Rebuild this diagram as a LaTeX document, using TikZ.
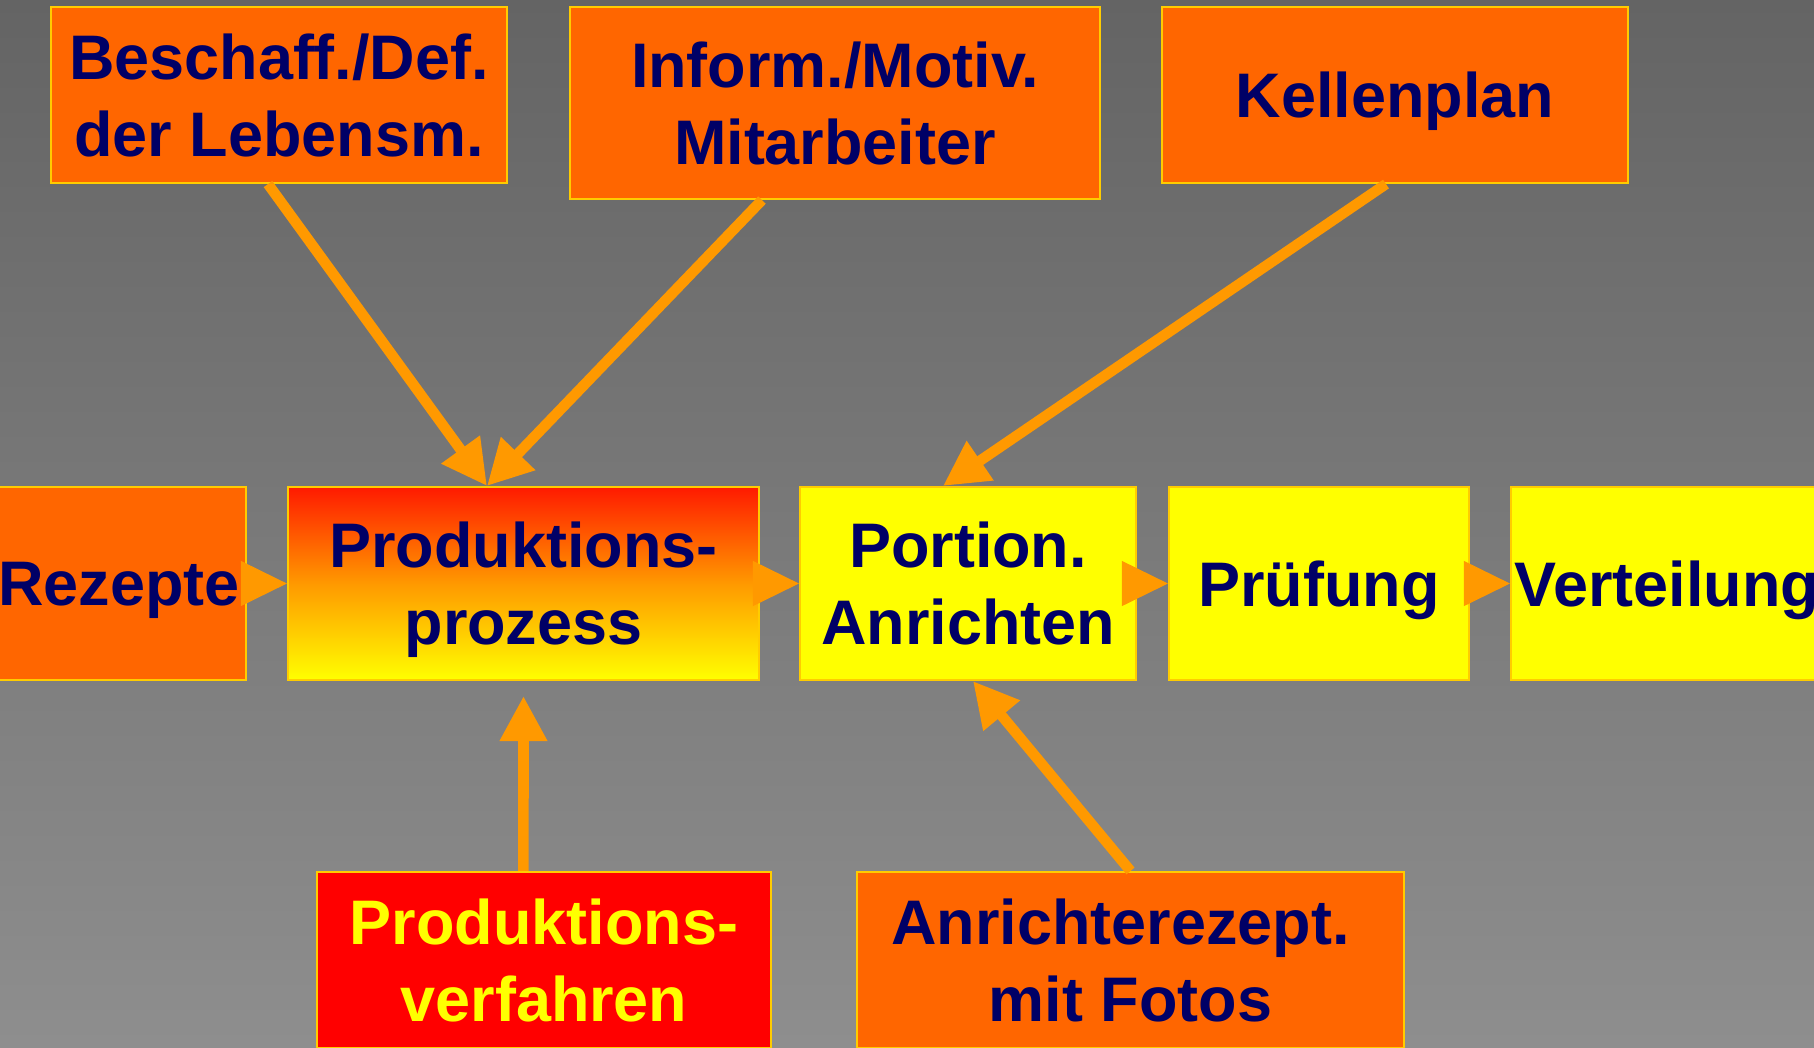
\documentclass[tikz,border=0pt]{standalone}
\usepackage{fontspec}
\setmainfont{Liberation Sans}
\usepackage{tikz}
\usetikzlibrary{arrows.meta,calc,positioning}
\definecolor{bgtop}{RGB}{100,100,100}
\definecolor{bgbottom}{RGB}{142,142,142}
\definecolor{boxorange}{RGB}{255,102,0}
\definecolor{boxyellow}{RGB}{255,255,0}
\definecolor{boxred}{RGB}{255,0,0}
\definecolor{topred}{RGB}{255,26,0}
\definecolor{frame}{RGB}{255,204,0}
\definecolor{arroworange}{RGB}{255,153,0}
\definecolor{darkblue}{RGB}{0,0,102}

\begin{document}
\begin{tikzpicture}[x=0.01cm,y=-0.01cm,
    box/.style={draw=frame, line width=0.02cm, inner sep=0pt, align=center,
      text depth=0pt, text=darkblue, minimum height=1.93cm,
      font=\bfseries\fontsize{17.9}{21.9}\selectfont},
    obox/.style={box, fill=boxorange},
    ybox/.style={box, fill=boxyellow},
    feed/.style={draw=arroworange, line width=0.105cm,
      -{Triangle[length=0.45cm,width=0.45cm]}},
    flow/.style={draw=arroworange, line width=0.01cm,
      -{Triangle[length=0.46cm,width=0.45cm]}}]
        % Background and page size
        \useasboundingbox (0,0) rectangle (1814,1047);
        \clip (0,0) rectangle (1814,1047);
        \shade[top color=bgtop, bottom color=bgbottom] (0,0) rectangle (1814,1047);
        % Upper boxes
        \node[obox, minimum width=4.56cm, minimum height=1.76cm] (beschaff) at (279,95) {Beschaff./Def.\\der Lebensm.};
        \node[obox, minimum width=5.30cm, minimum height=1.92cm] (inform) at (835,103) {Inform./Motiv.\\Mitarbeiter};
        \node[obox, minimum width=4.66cm, minimum height=1.76cm] (kellen) at (1395,95) {Kellenplan};
        % Process chain
        \node[obox, minimum width=2.54cm] (rezepte) at (119,583.5) {Rezepte};
        \node[box, minimum width=4.71cm, top color=topred, bottom color=boxyellow,
          middle color=arroworange] (prozess) at (523.5,583.5) {Produktions-\\prozess};
        \node[ybox, minimum width=3.36cm] (portion) at (968,583.5) {Portion.\\Anrichten};
        \node[ybox, minimum width=3.00cm] (pruefung) at (1319,583.5) {Prüfung};
        \node[ybox, minimum width=3.12cm] (verteilung) at (1667,583.5) {Verteilung};
        % Lower boxes
        \node[box, fill=boxred, text=boxyellow, minimum width=4.54cm, minimum height=1.76cm] (verfahren) at (544,960) {Produktions-\\verfahren};
        \node[obox, minimum width=5.47cm, minimum height=1.76cm] (anricht) at (1130.5,960) {Anrichterezept.\kern0.2cm\\mit Fotos};
        % Chain arrows
        \draw[flow] (rezepte) -- (prozess);
        \draw[flow] (prozess) -- (portion);
        \draw[flow] (portion) -- (pruefung);
        \draw[flow] (pruefung) -- (verteilung);
        % Inputs from above
        \draw[feed] ([xshift=-0.11cm]beschaff.south) -- ([xshift=-0.365cm]prozess.north);
        \draw[feed] ([xshift=-0.73cm]inform.south) -- ([xshift=-0.365cm]prozess.north);
        \draw[feed] ([xshift=-0.09cm]kellen.south) -- ([xshift=-0.25cm]portion.north);
        % Inputs from below
        \draw[feed] ([xshift=-0.205cm]verfahren.north) -- ([yshift=-0.15cm]prozess.south);
        \draw[feed] (anricht.north) -- ([xshift=0.05cm]portion.south);
      \end{tikzpicture}
\end{document}
